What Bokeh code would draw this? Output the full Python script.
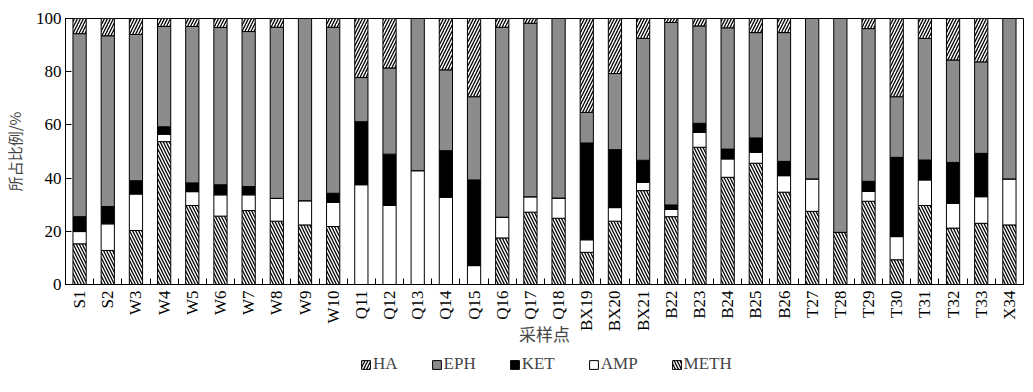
from bokeh.plotting import figure
from bokeh.models import ColumnDataSource, FixedTicker, Legend, LegendItem, Range1d
from bokeh.layouts import column
from bokeh.transform import stack
from bokeh.embed import file_html
from bokeh.resources import INLINE

sites = ["S1", "S2", "W3", "W4", "W5", "W6", "W7", "W8", "W9", "W10",
         "Q11", "Q12", "Q13", "Q14", "Q15", "Q16", "Q17", "Q18",
         "BX19", "BX20", "BX21", "B22", "B23", "B24", "B25", "B26",
         "T27", "T28", "T29", "T30", "T31", "T32", "T33", "X34"]

METH = [15.3, 12.8, 20.3, 53.7, 29.7, 25.7, 27.8, 23.8, 22.4, 21.8,
        0, 0, 0, 0, 0, 17.5, 27.2, 24.9,
        12.1, 23.8, 35.3, 25.5, 51.6, 40.3, 45.6, 34.7,
        27.5, 19.6, 31.3, 9.3, 29.7, 21.2, 23.0, 22.4]
AMP = [4.6, 10.0, 13.7, 2.8, 5.2, 8.0, 5.9, 8.6, 9.1, 9.1,
       37.5, 29.7, 42.8, 32.8, 7.1, 7.8, 5.8, 7.6,
       4.7, 5.1, 3.1, 2.7, 5.6, 6.9, 4.1, 6.2,
       12.2, 0, 3.7, 8.7, 9.6, 9.3, 10.0, 17.3]
KET = [5.6, 6.5, 5.0, 2.8, 3.3, 3.8, 3.1, 0, 0, 3.4,
       23.7, 19.3, 0, 17.5, 32.2, 0, 0, 0,
       36.4, 21.8, 8.3, 1.7, 3.4, 3.7, 5.4, 5.4,
       0, 0, 3.8, 29.8, 7.5, 15.4, 16.3, 0]
EPH = [68.8, 64.2, 55.0, 37.7, 58.8, 59.1, 58.3, 64.3, 68.5, 62.4,
       16.6, 32.4, 57.2, 30.4, 31.3, 71.4, 65.2, 67.5,
       11.5, 28.6, 45.8, 68.6, 36.6, 45.6, 39.6, 48.4,
       60.3, 80.4, 57.4, 22.8, 45.7, 38.5, 34.4, 60.3]
HA = [5.7, 6.5, 6.0, 3.0, 3.0, 3.4, 4.9, 3.3, 0, 3.3,
      22.2, 18.6, 0, 19.3, 29.4, 3.3, 1.8, 0,
      35.3, 20.7, 7.5, 1.5, 2.8, 3.5, 5.3, 5.3,
      0, 0, 3.8, 29.4, 7.5, 15.6, 16.3, 0]

y_ticks = [0, 20, 40, 60, 80, 100]

n = len(sites)
xs = list(range(n))
src = ColumnDataSource(dict(x=xs, METH=METH, AMP=AMP, KET=KET, EPH=EPH, HA=HA))

SERIF = "Liberation Serif"
CJK = "Noto Sans CJK SC"

p = figure(frame_width=958, frame_height=266, output_backend="svg", toolbar_location=None,
           x_range=Range1d(-0.5, n - 0.5), y_range=Range1d(0, 100),
           min_border_left=54, min_border_right=6, min_border_top=18, min_border_bottom=0)
p.grid.visible = False
p.outline_line_color = "black"
p.outline_line_width = 1
p.background_fill_color = "white"
p.border_fill_color = "white"

layers = ["METH", "AMP", "KET", "EPH", "HA"]
fills = {"METH": "white", "AMP": "white", "KET": "black", "EPH": "#8c8c8c", "HA": "white"}
hatches = {"METH": "\\", "AMP": " ", "KET": " ", "EPH": " ", "HA": "/"}
style = dict(line_color="black", line_width=1, hatch_color="black", hatch_scale=6, hatch_weight=1.3)
for i, name in enumerate(layers):
    p.vbar(x="x", bottom=stack(*layers[:i]), top=stack(*layers[:i + 1]), width=0.47,
           source=src, fill_color=fills[name], hatch_pattern=hatches[name], **style)

# axes
xa = p.xaxis[0]
xa.ticker = FixedTicker(ticks=xs, minor_ticks=[k - 0.5 for k in range(n + 1)])
xa.major_label_overrides = {k: s for k, s in enumerate(sites)}
xa.major_label_orientation = 3.14159265 / 2
xa.major_tick_in = 0
xa.major_tick_out = 0
xa.minor_tick_in = 6
xa.minor_tick_out = 0
xa.major_label_standoff = 6
xa.major_label_text_font = SERIF
xa.major_label_text_font_size = "17px"
xa.major_label_text_color = "black"
xa.axis_label = "采样点"
xa.axis_label_text_font = CJK
xa.axis_label_text_font_size = "17px"
xa.axis_label_text_font_style = "normal"
xa.axis_label_standoff = -13
xa.axis_line_color = "black"

ya = p.yaxis[0]
ya.ticker = FixedTicker(ticks=y_ticks)
ya.minor_tick_line_color = None
ya.major_tick_in = 6
ya.major_tick_out = 0
ya.major_label_standoff = 4
ya.major_label_text_font = SERIF
ya.major_label_text_font_size = "17px"
ya.major_label_text_color = "black"
ya.axis_label = "所占比例/%"
ya.axis_label_text_font = CJK
ya.axis_label_text_font_size = "15px"
ya.axis_label_text_font_style = "normal"
ya.axis_label_standoff = 8

# legend strip
p2 = figure(width=1018, height=34, output_backend="svg", toolbar_location=None,
            x_range=Range1d(0, 1), y_range=Range1d(0, 1),
            min_border_left=0, min_border_right=0, min_border_top=0, min_border_bottom=0)
p2.axis.visible = False
p2.grid.visible = False
p2.outline_line_color = None
offscreen = ColumnDataSource(dict(x=[-5], top=[-5]))
items = []
for name in ["HA", "EPH", "KET", "AMP", "METH"]:
    r = p2.vbar(x="x", top="top", bottom=-6, width=0.5, source=offscreen, fill_color=fills[name],
                hatch_pattern=hatches[name], **style)
    items.append(LegendItem(label=name, renderers=[r]))
legend = Legend(items=items, orientation="horizontal", location=(295, 9),
                label_text_font=SERIF, label_text_font_size="17px",
                glyph_width=11, glyph_height=11, label_standoff=2, spacing=33,
                border_line_color=None, background_fill_alpha=0, padding=0, margin=0)
p2.add_layout(legend, "center")

layout = column(p, p2, spacing=0)
open("out.html", "w").write(file_html(layout, INLINE))
